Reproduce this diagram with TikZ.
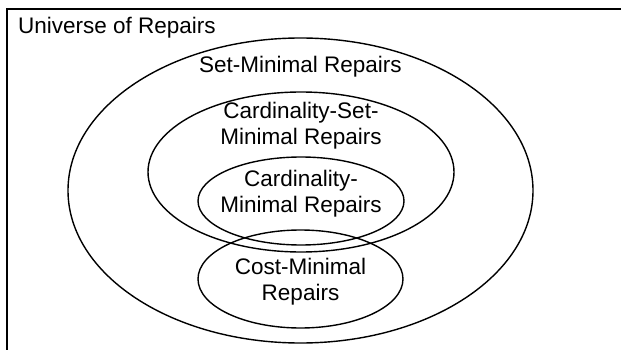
\documentclass[tikz,border=0pt]{standalone}
\usepackage{fontspec}
\setmainfont{Liberation Sans}
\begin{document}
\begin{tikzpicture}[x=1pt,y=-1pt,
  set/.style={draw=black,line width=1.4pt},
  frame/.style={draw=black,line width=2.2pt},
  lbl/.style={font=\fontsize{22.5}{26}\selectfont,align=center,inner sep=0pt,text=black}]
  \useasboundingbox (0,0) rectangle (621,350);
  \clip (0,0) rectangle (621,350);
  % outer frame: the universe of repairs (runs past the page edge)
  \draw[frame] (7,9) rectangle (700,420);
  \node[lbl,anchor=west] (universe) at (18,28) {Universe of Repairs};
  % nested repair classes
  \draw[set] (300.5,190.5) ellipse [x radius=232.5,y radius=152.5];
  \draw[set] (301,172) ellipse [x radius=153,y radius=80];
  \draw[set] (301,201) ellipse [x radius=103,y radius=44];
  \draw[set] (300.5,279) ellipse [x radius=102.5,y radius=49];
  \node[lbl] (setmin) at (300.5,67) {Set-Minimal Repairs};
  \node[lbl] (cardset) at (301,126) {Cardinality-Set-\\Minimal Repairs};
  \node[lbl] (cardmin) at (301,194) {Cardinality-\\Minimal Repairs};
  \node[lbl] (costmin) at (300.5,282) {Cost-Minimal\\Repairs};
\end{tikzpicture}
\end{document}
